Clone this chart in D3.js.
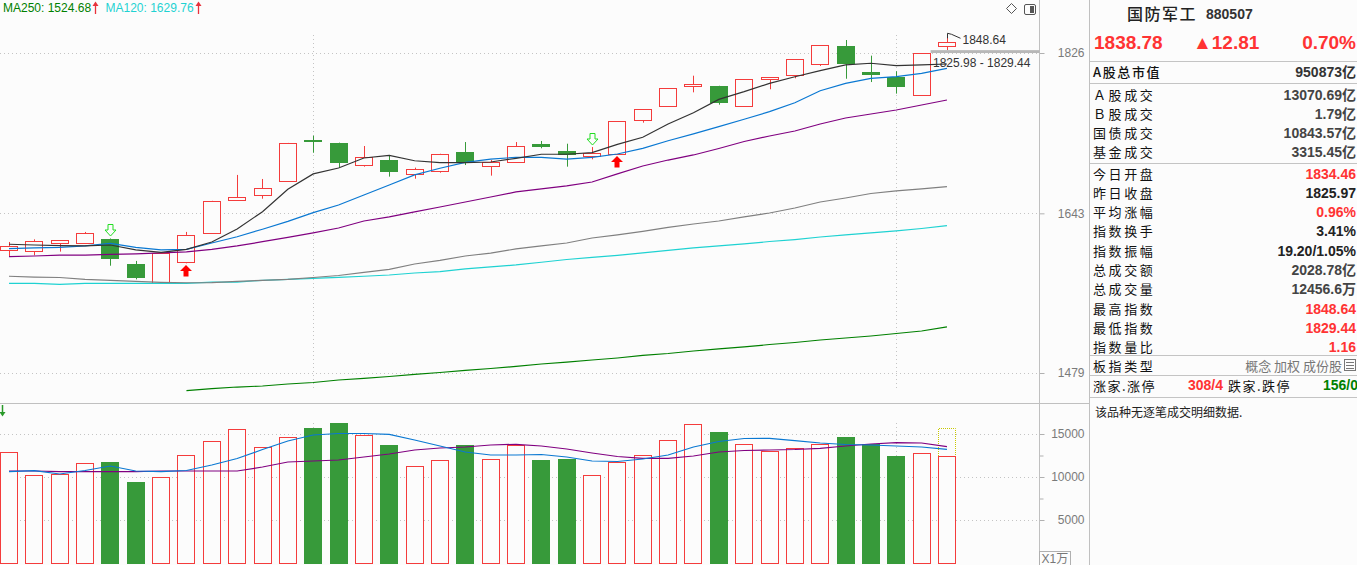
<!DOCTYPE html>
<html><head><meta charset="utf-8">
<script src="https://cdn.jsdelivr.net/npm/d3@7"></script>
<style>
html,body{margin:0;padding:0;background:#fcfcfc;}
svg{display:block;}
</style></head><body>
<svg id="c" width="1357" height="565"></svg>
<script>
// ---------- DATA ----------
const candleIdx = d3.range(38);
const open  = [1603.9,1603.1,1611.6,1610.9,1615.5,1589.1,1569.6,1591.5,1621.6,1657.2,1662.7,1678.1,1724.0,1720.9,1696.5,1701.7,1685.8,1689.4,1710.7,1694.7,1699.1,1719.8,1711.9,1705.9,1708.2,1746.9,1763.0,1786.4,1786.8,1763.0,1795.0,1799.4,1813.2,1834.9,1803.3,1797.9,1776.2,1834.46];
const high  = [1612.3,1615.1,1614.4,1623.0,1616.0,1592.3,1600.6,1623.0,1656.6,1685.1,1680.6,1721.0,1729.2,1721.3,1717.5,1707.4,1693.2,1708.8,1722.0,1701.7,1722.0,1723.2,1720.1,1716.3,1746.0,1759.8,1784.2,1798.9,1787.0,1794.8,1797.2,1818.6,1835.5,1841.7,1822.8,1804.2,1825.98,1848.64];
const low   = [1597.5,1598.2,1602.1,1610.7,1587.3,1573.1,1569.4,1589.8,1621.4,1657.0,1658.9,1677.8,1709.9,1693.6,1694.3,1683.2,1680.9,1687.6,1696.1,1684.3,1698.9,1714.9,1694.3,1702.5,1708.0,1744.1,1762.8,1779.3,1764.9,1762.8,1782.9,1795.8,1810.5,1795.3,1791.4,1777.8,1776.0,1829.44];
const close = [1608.1,1613.0,1614.1,1621.6,1594.4,1574.5,1600.4,1619.8,1656.4,1660.5,1670.4,1720.6,1722.0,1698.7,1704.7,1688.7,1691.4,1708.5,1698.0,1699.1,1717.2,1716.7,1707.4,1709.6,1745.7,1759.6,1784.0,1789.1,1767.2,1794.6,1797.0,1818.4,1835.3,1813.2,1800.1,1786.0,1825.97,1838.78];
const ma5   = [1609.9,1609.1,1608.4,1608.1,1609.1,1603.9,1601.4,1604.4,1612.3,1626.2,1644.8,1669.3,1686.2,1692.8,1704.0,1707.0,1700.9,1698.7,1698.7,1699.5,1703.6,1708.2,1708.2,1710.0,1719.4,1727.4,1742.6,1755.6,1771.1,1780.1,1789.9,1797.7,1804.9,1811.7,1813.7,1810.8,1811.7,1812.8];
const ma10  = [1605.2,1606.0,1606.5,1608.1,1610.9,1606.5,1603.9,1604.4,1611.2,1617.9,1625.9,1634.4,1643.7,1652.1,1663.0,1674.0,1685.1,1692.5,1699.1,1702.8,1704.7,1704.7,1702.8,1704.7,1708.5,1714.9,1723.5,1731.2,1739.5,1748.0,1756.8,1767.2,1781.2,1789.9,1795.8,1797.7,1801.7,1807.7];
const ma20  = [1596.8,1597.5,1598.3,1598.3,1599.1,1599.7,1600.7,1601.8,1604.4,1608.1,1612.6,1617.1,1621.9,1627.2,1634.7,1639.1,1644.5,1649.9,1655.3,1660.8,1666.3,1669.6,1672.9,1677.3,1686.2,1695.0,1701.7,1707.4,1714.7,1722.6,1728.9,1734.6,1742.6,1749.5,1754.1,1758.7,1764.5,1770.3];
const ma60  = [1576.3,1575.5,1575.0,1573.1,1572.1,1570.9,1570.0,1569.6,1569.8,1570.9,1572.1,1573.1,1575.0,1577.1,1580.3,1583.4,1589.1,1592.8,1597.5,1600.6,1604.9,1608.1,1611.2,1616.5,1619.8,1623.6,1627.8,1631.5,1634.7,1639.1,1643.4,1648.8,1655.3,1659.7,1664.6,1667.4,1669.6,1672.1];
const ma120 = [1569.0,1569.0,1568.0,1569.0,1569.0,1569.0,1569.0,1569.0,1570.3,1570.3,1572.1,1573.1,1574.2,1575.2,1576.3,1577.6,1579.7,1581.1,1583.9,1586.0,1588.1,1590.9,1593.8,1596.0,1598.1,1600.7,1603.4,1606.0,1608.1,1610.2,1612.8,1614.9,1617.6,1619.8,1621.9,1624.1,1626.7,1629.76];
const ma250 = [null,null,null,null,null,null,null,1461.9,1463.8,1465.4,1466.4,1468.3,1469.8,1472.2,1473.7,1475.6,1477.6,1479.5,1481.5,1483.4,1485.4,1487.8,1489.7,1491.7,1493.7,1496.2,1498.1,1500.6,1502.6,1504.6,1507.0,1509.0,1511.5,1513.5,1515.5,1518.0,1520.5,1524.68];
const volume = [12872,10198,10349,11593,11744,9419,9965,12523,14151,15547,13453,14616,15698,16279,14849,13721,11244,11942,13721,12058,13686,11977,12093,10198,11709,12523,14267,16128,15198,13802,13058,13337,13837,14651,13837,12442,12756,12456.6];
const volProjected = 15663;
const volMa5  = [10616,10733,10349,10756,11279,10698,10616,10756,11395,12151,13198,14186,14884,15058,15058,14965,14302,13605,12907,12558,12558,12616,12326,11861,11802,12093,12558,13488,14128,14477,14500,14221,13954,13779,13721,13605,13488,13221];
const volMa10 = [10698,10698,10616,10616,10616,10616,10698,10698,10698,10698,11163,11744,11861,11977,12326,12675,13140,13372,13488,13721,13802,13605,13256,12791,12384,12175,12175,12442,12907,13082,13140,13198,13337,13605,13837,13988,13954,13523];
const sellSignals = [4, 23];
const buySignals = [7, 24];
const monthMarks = [12, 35];
const priceTicks = [1826, 1643, 1479];
const volTicks = [15000, 10000, 5000];
const volMinorTicks = [12500, 7500];
const legendItems = [{name:"MA250", value:"1524.68", color:"#008000"},{name:"MA120", value:"1629.76", color:"#1fd2d2"}];
const gapLow = 1825.98, gapHigh = 1829.44;

const infoTitle = "国防军工", infoCode = "880507";
const infoPrice = "1838.78", infoChange = "▲12.81", infoPct = "0.70%";
const infoRows = [
  {label:"A股总市值", value:"950873亿", color:"#333", y:71.5},
  {label:"Ａ股成交", value:"13070.69亿", color:"#444", y:94},
  {label:"Ｂ股成交", value:"1.79亿", color:"#444", y:113},
  {label:"国债成交", value:"10843.57亿", color:"#444", y:132},
  {label:"基金成交", value:"3315.45亿", color:"#444", y:151.5},
  {label:"今日开盘", value:"1834.46", color:"#f33", y:173},
  {label:"昨日收盘", value:"1825.97", color:"#222", y:192.5},
  {label:"平均涨幅", value:"0.96%", color:"#f33", y:211.5},
  {label:"指数换手", value:"3.41%", color:"#222", y:230.5},
  {label:"指数振幅", value:"19.20/1.05%", color:"#222", y:250},
  {label:"总成交额", value:"2028.78亿", color:"#444", y:269.5},
  {label:"总成交量", value:"12456.6万", color:"#444", y:288.5},
  {label:"最高指数", value:"1848.64", color:"#f33", y:308},
  {label:"最低指数", value:"1829.44", color:"#f33", y:327},
  {label:"指数量比", value:"1.16", color:"#f33", y:346.5}
];
const panelSeps = [61, 83, 163, 355, 375, 397];

// ---------- SETUP ----------
const W = 1357, H = 565, AX = 1039.5, BG = "#fcfcfc";
const RED = "#f43c3c", GREEN = "#379a3a";
const NUM = "'Liberation Sans', Arial, 'Noto Sans CJK SC', sans-serif";
const CJK = "'Noto Sans CJK SC', 'Liberation Sans', sans-serif";
const LBL = `13px ${CJK}`;
const svg = d3.select("#c");
svg.append("rect").attr("width", W).attr("height", H).attr("fill", BG);

const x = d3.scaleBand().domain(candleIdx).range([0, 955.95]).paddingInner(0.29).paddingOuter(0);
const bw = x.bandwidth();
const cx = i => x(i) + bw / 2;
const y = d3.scaleLog().domain([1479, 1826]).range([373, 53]);
const yv = d3.scaleLinear().domain([0, 15000]).range([563, 434]);

const defs = svg.append("defs");
defs.append("clipPath").attr("id", "cp").append("rect").attr("x", 0).attr("y", 0).attr("width", AX).attr("height", 402);
defs.append("clipPath").attr("id", "cv").append("rect").attr("x", 0).attr("y", 404).attr("width", AX).attr("height", 161);

// ---------- GRID ----------
const grid = svg.append("g").attr("stroke", "#c4c4c4").attr("stroke-dasharray", "1,3");
priceTicks.forEach(t => grid.append("line").attr("x1", 0).attr("x2", AX).attr("y1", Math.round(y(t)) + 0.5).attr("y2", Math.round(y(t)) + 0.5));
volTicks.forEach(t => grid.append("line").attr("x1", 0).attr("x2", AX).attr("y1", Math.round(yv(t)) + 0.5).attr("y2", Math.round(yv(t)) + 0.5));
monthMarks.forEach(i => {
  const xx = Math.round(cx(i)) + 0.5;
  grid.append("line").attr("x1", xx).attr("x2", xx).attr("y1", 35).attr("y2", 390);
  grid.append("line").attr("x1", xx).attr("x2", xx).attr("y1", 423).attr("y2", 563);
});

// ---------- AXES ----------
const axP = svg.append("g").attr("transform", `translate(${AX},0)`)
  .call(d3.axisRight(y).tickValues(priceTicks).tickFormat(d3.format("d")).tickSize(5).tickPadding(0));
const axV = svg.append("g").attr("transform", `translate(${AX},0)`)
  .call(d3.axisRight(yv).tickValues(volTicks).tickFormat(d3.format("d")).tickSize(5).tickPadding(0));
const axVm = svg.append("g").attr("transform", `translate(${AX},0)`)
  .call(d3.axisRight(yv).tickValues(volMinorTicks).tickFormat("").tickSize(4));
[axP, axV, axVm].forEach(g => {
  g.select(".domain").remove();
  g.selectAll(".tick line").attr("stroke", "#b0b0b0");
  g.selectAll(".tick text").attr("x", 45).attr("text-anchor", "end").attr("fill", "#7a7a7a")
    .style("font", `12px ${NUM}`);
});

// frame lines
svg.append("line").attr("x1", AX).attr("x2", AX).attr("y1", 0).attr("y2", H).attr("stroke", "#c0c0c0");
svg.append("line").attr("x1", 1089.5).attr("x2", 1089.5).attr("y1", 0).attr("y2", H).attr("stroke", "#c0c0c0");
svg.append("line").attr("x1", 0).attr("x2", 1090).attr("y1", 403.5).attr("y2", 403.5).attr("stroke", "#c0c0c0");

// ---------- CANDLES ----------
const gc = svg.append("g").attr("clip-path", "url(#cp)");
candleIdx.forEach(i => {
  const up = close[i] >= open[i];
  const xl = Math.round(x(i));
  const xm = Math.round(cx(i)) + 0.5;
  const top = y(Math.max(open[i], close[i])), bot = y(Math.min(open[i], close[i]));
  if (up) {
    gc.append("line").attr("x1", xm).attr("x2", xm).attr("y1", y(high[i])).attr("y2", top).attr("stroke", RED);
    gc.append("line").attr("x1", xm).attr("x2", xm).attr("y1", bot).attr("y2", y(low[i])).attr("stroke", RED);
    gc.append("rect").attr("x", xl + 0.5).attr("y", Math.round(top) + 0.5).attr("width", 17)
      .attr("height", Math.max(1, Math.round(bot) - Math.round(top))).attr("fill", BG).attr("stroke", RED);
  } else {
    gc.append("line").attr("x1", xm).attr("x2", xm).attr("y1", y(high[i])).attr("y2", y(low[i])).attr("stroke", GREEN);
    gc.append("rect").attr("x", xl).attr("y", Math.round(top)).attr("width", 18)
      .attr("height", Math.max(2, Math.round(bot) - Math.round(top))).attr("fill", GREEN);
  }
});

// ---------- MA LINES ----------
const maSeries = [
  {d: ma250, c: "#008000"}, {d: ma120, c: "#1fd2d2"}, {d: ma60, c: "#808080"},
  {d: ma20, c: "#800080"}, {d: ma10, c: "#0a78d2"}, {d: ma5, c: "#333333"}
];
const line = d3.line().defined(d => d[1] != null).x(d => cx(d[0])).y(d => y(d[1]));
maSeries.forEach(s => {
  gc.append("path").attr("d", line(s.d.map((v, i) => [i, v]))).attr("fill", "none")
    .attr("stroke", s.c).attr("stroke-width", 1.2);
});

// signal arrows
sellSignals.forEach(i => {
  const px = Math.round(cx(i)) + 0.5, py = Math.round(y(high[i])) - 2;
  gc.append("path").attr("d", `M${px},${py} l-5.5,-6 h3 v-5.5 h5 v5.5 h3 z`)
    .attr("fill", BG).attr("stroke", "#22dd22").attr("stroke-width", 1);
});
buySignals.forEach(i => {
  const px = Math.round(cx(i)), py = Math.round(y(low[i])) + 2;
  gc.append("path").attr("d", `M${px},${py} l6,6 h-3.5 v5.5 h-5 v-5.5 h-3.5 z`).attr("fill", "#ff0000");
});

// gap band & labels
const last = candleIdx.length - 1;
svg.append("rect").attr("x", x(last - 1) + bw).attr("y", y(gapHigh)).attr("width", AX - (x(last - 1) + bw))
  .attr("height", y(gapLow) - y(gapHigh)).attr("fill", "#b8b8b8");
svg.append("text").attr("x", 933).attr("y", y(gapLow) + 14).attr("fill", "#333")
  .style("font", `12px ${NUM}`).text(`${gapLow} - ${gapHigh}`);
const hx = Math.round(cx(last)) + 0.5, hy = y(high[last]);
svg.append("path").attr("d", `M${hx},${hy + 4} V${hy - 1} L${hx + 4},${hy} L${hx + 13},${hy + 4}`)
  .attr("fill", "none").attr("stroke", "#333").attr("stroke-width", 1);
svg.append("text").attr("x", hx + 15).attr("y", hy + 10).attr("fill", "#333")
  .style("font", `12px ${NUM}`).text(d3.format(".2f")(high[last]));

// ---------- VOLUME ----------
const gv = svg.append("g").attr("clip-path", "url(#cv)");
candleIdx.forEach(i => {
  const up = close[i] >= open[i];
  const xl = Math.round(x(i));
  const t = Math.round(yv(volume[i]));
  if (up) {
    gv.append("rect").attr("x", xl + 0.5).attr("y", t + 0.5).attr("width", 17).attr("height", 563 - t)
      .attr("fill", BG).attr("stroke", RED);
  } else {
    gv.append("rect").attr("x", xl).attr("y", t).attr("width", 18).attr("height", 564 - t).attr("fill", GREEN);
  }
});
{
  const xl = Math.round(x(last)), tp = Math.round(yv(volProjected)), tb = Math.round(yv(volume[last]));
  gv.append("path").attr("d", `M${xl + 0.5},${tb} V${tp + 0.5} H${xl + 17.5} V${tb}`)
    .attr("fill", "none").attr("stroke", "#c8c800").attr("stroke-dasharray", "1,1");
}
const vline = d3.line().x(d => cx(d[0])).y(d => yv(d[1]));
[{d: volMa10, c: "#800080"}, {d: volMa5, c: "#0a78d2"}].forEach(s => {
  gv.append("path").attr("d", vline(s.d.map((v, i) => [i, v]))).attr("fill", "none")
    .attr("stroke", s.c).attr("stroke-width", 1.2);
});
// small green arrow at top-left of volume pane
svg.append("path").attr("d", "M2.5,405 V413").attr("stroke", "#2a9a2a").attr("stroke-width", 1.5);
svg.append("path").attr("d", "M-0.5,412 L5.5,412 L2.5,416.5 Z").attr("fill", "#2a9a2a");

// X1万 box
svg.append("rect").attr("x", AX).attr("y", 551.5).attr("width", 31).attr("height", 14).attr("fill", "none").attr("stroke", "#b0b0b0");
svg.append("text").attr("x", AX + 2).attr("y", 563).attr("fill", "#777").style("font", `12px ${NUM}`).text("X1万");

// ---------- LEGEND ----------
let lx = 3;
legendItems.forEach(it => {
  const t = svg.append("text").attr("x", lx).attr("y", 12).attr("fill", it.color)
    .style("font", `12px ${NUM}`).text(`${it.name}: ${it.value}`);
  const w = t.node().getComputedTextLength();
  const ax = Math.round(lx + w + 4) + 0.5;
  svg.append("path").attr("d", `M${ax},14 V4`).attr("stroke", "#e8323c").attr("stroke-width", 1.3);
  svg.append("path").attr("d", `M${ax - 3},6 L${ax},1.5 L${ax + 3},6 Z`).attr("fill", "#e8323c");
  lx = ax + 10;
});

// top-right icons
svg.append("path").attr("d", "M1011.5,3.5 L1016.5,8.5 L1011.5,13.5 L1006.5,8.5 Z").attr("fill", "none").attr("stroke", "#555");
svg.append("rect").attr("x", 1024.5).attr("y", 4.5).attr("width", 11).attr("height", 10).attr("rx", 1.5).attr("fill", "none").attr("stroke", "#555");
svg.append("rect").attr("x", 1030).attr("y", 6).attr("width", 4).attr("height", 7).attr("fill", "#555");

// ---------- RIGHT PANEL ----------
const rp = svg.append("g");
rp.append("text").attr("x", 1127).attr("y", 13).attr("dominant-baseline", "central").attr("fill", "#222")
  .attr("letter-spacing", 1.5).style("font", `500 16px ${CJK}`).text(infoTitle);
rp.append("text").attr("x", 1206).attr("y", 19).attr("fill", "#333").style("font", `bold 14px ${NUM}`).text(infoCode);
rp.append("text").attr("x", 1094).attr("y", 49).attr("fill", "#f33").style("font", `bold 19px ${NUM}`).text(infoPrice);
rp.append("text").attr("x", 1193).attr("y", 49).attr("fill", "#f33").style("font", `bold 19px ${NUM}`).text(infoChange);
rp.append("text").attr("x", 1356).attr("y", 49).attr("text-anchor", "end").attr("fill", "#f33").style("font", `bold 19px ${NUM}`).text(infoPct);
panelSeps.forEach(s => rp.append("line").attr("x1", 1090).attr("x2", W).attr("y1", s + 0.5).attr("y2", s + 0.5).attr("stroke", "#c4c4c4"));
infoRows.forEach((r, k) => {
  rp.append("text").attr("x", 1093).attr("y", r.y).attr("dominant-baseline", "central").attr("fill", "#111")
    .attr("letter-spacing", k === 0 ? 1.6 : 2.6)
    .style("font", `${k === 0 ? "500 " : ""}${LBL}`).text(r.label);
  rp.append("text").attr("x", 1356).attr("y", r.y + 0.5).attr("dominant-baseline", "central").attr("text-anchor", "end")
    .attr("fill", r.color).style("font", `bold 14px ${NUM}`).text(r.value);
});
rp.append("text").attr("x", 1093).attr("y", 365.5).attr("dominant-baseline", "central").attr("fill", "#111")
  .attr("letter-spacing", 2.6).style("font", LBL).text("板指类型");
rp.append("text").attr("x", 1342).attr("y", 365.5).attr("dominant-baseline", "central").attr("text-anchor", "end").attr("fill", "#777").style("font", `13px ${CJK}`).text("概念 加权 成份股");
rp.append("rect").attr("x", 1344.5).attr("y", 359.5).attr("width", 11).attr("height", 11).attr("fill", "none").attr("stroke", "#777");
[362.5, 365.5, 368.5].forEach(yy => rp.append("line").attr("x1", 1346).attr("x2", 1354).attr("y1", yy).attr("y2", yy).attr("stroke", "#777"));
rp.append("text").attr("x", 1093).attr("y", 385).attr("dominant-baseline", "central").attr("fill", "#111")
  .attr("letter-spacing", 1.5).style("font", LBL).text("涨家.涨停");
rp.append("text").attr("x", 1188).attr("y", 385).attr("dominant-baseline", "central").attr("fill", "#f33").style("font", `bold 14px ${NUM}`).text("308/4");
rp.append("text").attr("x", 1228).attr("y", 385).attr("dominant-baseline", "central").attr("fill", "#111")
  .attr("letter-spacing", 1.5).style("font", LBL).text("跌家.跌停");
rp.append("text").attr("x", 1323).attr("y", 385).attr("dominant-baseline", "central").attr("fill", "#008000").style("font", `bold 14px ${NUM}`).text("156/0");
rp.append("text").attr("x", 1095).attr("y", 411).attr("dominant-baseline", "central").attr("fill", "#222").style("font", `12px ${CJK}`).text("该品种无逐笔成交明细数据.");
</script>
</body></html>
